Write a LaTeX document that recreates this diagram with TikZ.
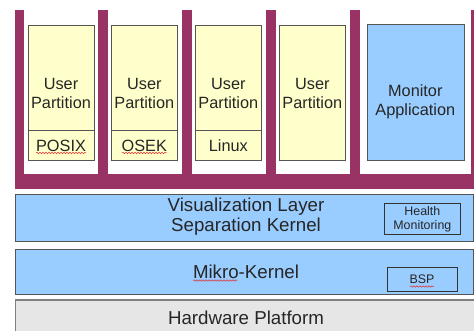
\documentclass[tikz,border=0pt]{standalone}
\usepackage{fontspec}
\setmainfont{Liberation Sans}
\usetikzlibrary{decorations.pathmorphing}
\definecolor{bord}{HTML}{993366}
\definecolor{ylw}{HTML}{FFFFCC}
\definecolor{sky}{HTML}{99CCFF}
\definecolor{hwfill}{HTML}{E6E6E6}
\definecolor{edgegray}{HTML}{555555}
\definecolor{spell}{HTML}{E03030}
\tikzset{
  box/.style={rectangle, anchor=north west, inner sep=0pt, draw=edgegray, line width=0.8pt},
  partbox/.style={box, fill=ylw},
  bluebox/.style={box, fill=sky},
  hwbox/.style={box, fill=hwfill, draw=gray, line width=1.3pt},
  smallbox/.style={box, draw=black!80, line width=0.7pt},
  bar/.style={rectangle, anchor=north west, inner sep=0pt, fill=bord},
  ptext/.style={align=center, inner sep=0pt, font=\fontsize{16.3}{19}\selectfont, text=black!85},
  ltext/.style={align=center, inner sep=0pt, font=\fontsize{18.7}{20}\selectfont, text=black!85},
  stext/.style={align=center, inner sep=0pt, font=\fontsize{12.4}{14.3}\selectfont, text=black!85},
  squiggle/.style={draw=spell, line width=0.5pt, decorate, decoration={snake, amplitude=0.7pt, segment length=3pt}}
}
\begin{document}
\begin{tikzpicture}[x=1pt,y=-1pt]
\useasboundingbox (0,0) rectangle (474,331);
\clip (0,0) rectangle (474,331);
% bars
\node[bar, minimum width=9.3pt, minimum height=170pt] (b1) at (14.7,9.5) {};
\node[bar, minimum width=9.3pt, minimum height=170pt] (b2) at (98,9.5) {};
\node[bar, minimum width=9.3pt, minimum height=170pt] (b3) at (182,9.5) {};
\node[bar, minimum width=9.3pt, minimum height=170pt] (b4) at (266,9.5) {};
\node[bar, minimum width=9.3pt, minimum height=170pt] (b5) at (350,9.5) {};
\node[bar, minimum width=9.3pt, minimum height=170pt] (b6) at (470.7,9.5) {};
\node[bar, minimum width=470pt, minimum height=14.7pt] (hbar) at (14.7,174) {};
% partitions
\node[partbox, minimum width=66pt, minimum height=104.7pt] (p1) at (28,25.3) {};
\node[partbox, minimum width=66pt, minimum height=30pt] (p1b) at (28,130) {};
\node[partbox, minimum width=66pt, minimum height=104.7pt] (p2) at (111.3,25.3) {};
\node[partbox, minimum width=66pt, minimum height=30pt] (p2b) at (111.3,130) {};
\node[partbox, minimum width=66pt, minimum height=104.7pt] (p3) at (195.3,25.3) {};
\node[partbox, minimum width=66pt, minimum height=30pt] (p3b) at (195.3,130) {};
\node[partbox, minimum width=66pt, minimum height=134.7pt] (p4) at (279.3,25.3) {};
\node[bluebox, minimum width=97.3pt, minimum height=136pt] (mon) at (366.7,24) {};
% partition texts
\node[ptext] (t1) at (61,93) {User\\Partition};
\node[ptext] (t2) at (144.3,93) {User\\Partition};
\node[ptext] (t3) at (228.3,93) {User\\Partition};
\node[ptext] (t4) at (312.3,93) {User\\Partition};
\node[ptext] (tm) at (415.3,102) {Monitor\\Application};
\node[ptext] (os1) at (61,145.5) {POSIX};
\node[ptext] (os2) at (144.3,145.5) {OSEK};
\node[ptext] (os3) at (228.3,145.5) {Linux};
% layers
\node[bluebox, minimum width=458.6pt, minimum height=46.7pt] (vis) at (14.7,194) {};
\node[bluebox, minimum width=458.6pt, minimum height=44.7pt] (mk) at (14.7,249.3) {};
\node[hwbox, minimum width=480pt, minimum height=50pt] (hw) at (14.7,299.3) {};
\node[smallbox, minimum width=76pt, minimum height=30.7pt] (hm) at (384,203.3) {};
\node[smallbox, minimum width=69.4pt, minimum height=24pt] (bsp) at (387.3,267.3) {};
\node[ltext] (tv) at (246,216.7) {Visualization Layer\\Separation Kernel};
\node[ltext] (tk) at (246,271.5) {Mikro-Kernel};
\node[ltext] (th) at (246,317.5) {Hardware Platform};
\node[stext] (thm) at (hm.center) {Health\\Monitoring};
\node[stext] (tb) at (422,279.5) {BSP};
% spell-check underlines
\coordinate (s1a) at (36,153); \coordinate (s1b) at (86,153);
\coordinate (s2a) at (122,153); \coordinate (s2b) at (167,153);
\coordinate (s3a) at (193,280.5); \coordinate (s3b) at (237,280.5);
\coordinate (s4a) at (410,286.5); \coordinate (s4b) at (434,286.5);
\draw[squiggle] (s1a) -- (s1b);
\draw[squiggle] (s2a) -- (s2b);
\draw[squiggle] (s3a) -- (s3b);
\draw[squiggle] (s4a) -- (s4b);
\end{tikzpicture}
\end{document}
